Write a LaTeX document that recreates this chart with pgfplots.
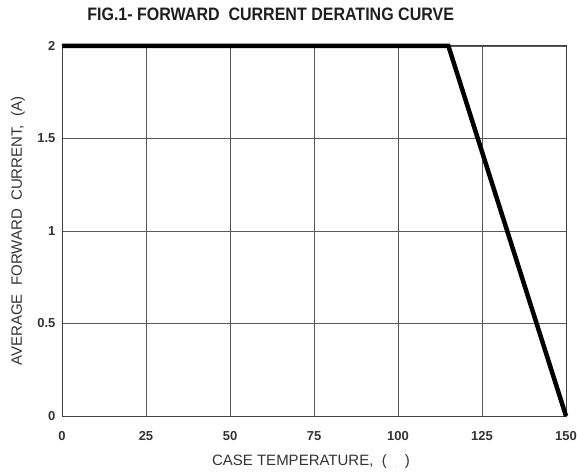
\documentclass[border=0pt]{standalone}
\usepackage{pgfplots}
\pgfplotsset{compat=1.18}
\usepackage{fontspec}
\setmainfont{Liberation Sans}
\newfontfamily\titlefont[FakeStretch=0.89]{Liberation Sans}
\newfontfamily\labelfont{Liberation Sans}
\begin{document}
\begin{tikzpicture}[x=1pt,y=1pt]
\useasboundingbox (-62,-57) rectangle (515,416);
\begin{axis}[
  at={(0,0)}, anchor=south west,
  scale only axis, width=504pt, height=370pt,
  xmin=0, xmax=150, ymin=0, ymax=2,
  xtick={0,25,50,75,100,125,150},
  ytick={0,0.5,1,1.5,2},
  yticklabels={0,0.5,1,1.5,2},
  grid=major,
  major grid style={draw=black!65, line width=0.9pt},
  axis line style={draw=black!75, line width=1pt},
  major tick length=0pt,
  tick label style={font=\labelfont\fontsize{13}{15}\selectfont\bfseries, text=black!80},
  xticklabel style={yshift=-12pt},
  yticklabel style={xshift=-3pt},
  /pgf/number format/assume math mode=true,
  clip=false,
]
\addplot[black, line width=4.5pt, line join=miter] coordinates {(0,2) (115,2) (150,0)};
\node[font=\titlefont\fontsize{18}{20}\selectfont\bfseries, text=black!88] at (rel axis cs:0.414,1) [yshift=32pt] {FIG.1- FORWARD\ \ CURRENT DERATING CURVE};
\node[font=\labelfont\fontsize{15}{17}\selectfont, text=black!80] at (rel axis cs:0.494,0) [yshift=-46pt] {CASE TEMPERATURE,\ \ (\ \ \raisebox{-2pt}{\tiny.}\ \ )};
\node[font=\labelfont\fontsize{15}{17}\selectfont, text=black!80, rotate=90] at ([xshift=-44pt]rel axis cs:0,0.5) {AVERAGE\ \ FORWARD\ \ CURRENT,\ \ (A)};
\end{axis}
\end{tikzpicture}
\end{document}
